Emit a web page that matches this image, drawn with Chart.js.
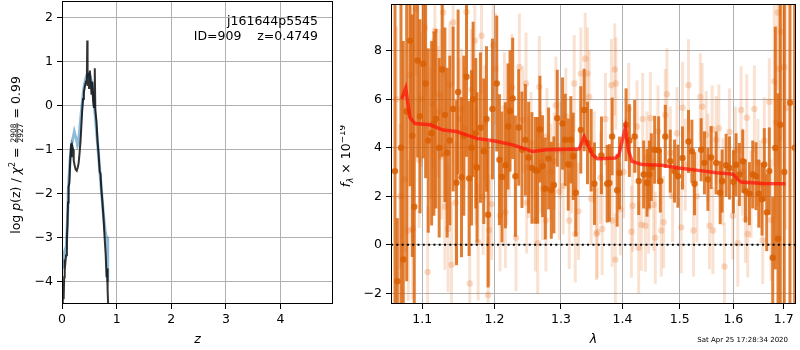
<!DOCTYPE html>
<html>
<head>
<meta charset="utf-8">
<script src="https://cdn.jsdelivr.net/npm/chart.js@4.4.0/dist/chart.umd.min.js"></script>
<style>
  body { margin: 0; background: #fff; }
  #wrap { position: relative; width: 800px; height: 350px; }
  canvas { position: absolute; top: 0; }
</style>
</head>
<body>
<div id="wrap">
  <canvas id="pz" width="340" height="350" style="left:0px"></canvas>
  <canvas id="spec" width="460" height="350" style="left:340px"></canvas>
</div>
<script>
// left panel: log p(z) curves
let zBlack = [0.010,0.020,0.030,0.040,0.050,0.060,0.075,0.090,0.100,0.110,0.120,0.135,0.150,0.165,0.175,0.185,0.195,0.205,0.215,0.230,0.250,0.270,0.290,0.305,0.320,0.340,0.355,0.370,0.385,0.400,0.420,0.440,0.455,0.462,0.468,0.480,0.495,0.510,0.525,0.540,0.555,0.570,0.585,0.595,0.600,0.610,0.630,0.650,0.670,0.690,0.705,0.720,0.740,0.760,0.780,0.800,0.815,0.825,0.835,0.850];
let lnpBlack = [-4.6,-4.2,-4.4,-3.9,-3.5,-3.6,-3.4,-3.0,-2.7,-2.2,-1.85,-1.75,-1.25,-0.9,-0.85,-1.15,-0.95,-1.0,-1.25,-1.35,-1.45,-1.48,-1.4,-1.3,-1.1,-0.8,-0.45,-0.1,0.15,0.3,0.45,0.55,0.6,1.48,0.45,0.75,0.4,0.8,0.55,0.25,0.55,0.1,-0.05,0.3,0.85,-0.1,-0.35,-0.8,-1.1,-1.5,-1.55,-1.9,-2.2,-2.55,-3.0,-3.4,-3.9,-3.7,-4.2,-4.7];
let zBlue = [0.005,0.020,0.050,0.080,0.100,0.120,0.150,0.180,0.210,0.225,0.245,0.265,0.285,0.300,0.320,0.350,0.370,0.400,0.430,0.460,0.490,0.520,0.550,0.580,0.610,0.640,0.670,0.700,0.730,0.760,0.790,0.810,0.825,0.832,0.840];
let lnpBlue = [-3.7,-3.65,-3.3,-3.2,-2.6,-1.8,-1.2,-0.85,-0.7,-0.6,-0.7,-0.75,-0.9,-0.85,-0.6,-0.2,0.05,0.4,0.6,0.7,0.72,0.65,0.45,0.15,-0.25,-0.7,-1.15,-1.6,-2.05,-2.5,-2.85,-3.0,-3.0,-3.7,-4.0];
let zTicks = [0, 1, 2, 3, 4];
let lnpTicks = [-4, -3, -2, -1, 0, 1, 2];

// right panel: spectrum, two sets of points with errors, model line
let waveDark = [1.0645,1.0675,1.0722,1.0752,1.0796,1.0839,1.0869,1.0895,1.0939,1.0970,1.1013,1.1045,1.1080,1.1125,1.1156,1.1183,1.1227,1.1267,1.1304,1.1335,1.1372,1.1417,1.1464,1.1486,1.1533,1.1565,1.1603,1.1639,1.1673,1.1695,1.1733,1.1751,1.1799,1.1846,1.1885,1.1908,1.1971,
  1.2033,1.2072,1.2110,1.2159,1.2197,1.2227,1.2266,1.2306,1.2355,1.2404,1.2455,1.2504,1.2554,1.2605,1.2640,1.2675,1.2716,1.2758,1.2808,1.2850,1.2890,1.2943,1.3025,1.3068,1.3115,1.3156,1.3194,1.3235,1.3315,1.3369,1.3423,1.3482,1.3536,
  1.3650,1.3744,1.3782,1.3827,1.3910,1.3949,1.4061,1.4117,1.4207,1.4276,1.4362,1.4420,1.4460,1.4495,1.4553,1.4623,1.4653,1.4741,1.4830,1.4906,1.4967,1.5050,1.5159,1.5221,1.5269,
  1.5392,1.5453,1.5517,1.5578,1.5672,1.5748,1.5785,1.5862,1.5925,1.6001,1.6053,1.6117,1.6183,1.6234,1.6312,1.6378,1.6443,1.6497,1.6562,1.6608,1.6656,1.6708,1.6777,1.6829,1.6884,1.6931,1.7012,1.7129,1.7226];
let fluxDark = [3.04,-1.5,4.0,-0.6,5.5,8.42,4.5,1.57,7.6,5.3,7.47,6.65,4.3,4.6,5.0,5.2,4.0,7.23,5.36,3.8,4.3,5.6,2.56,6.3,2.79,4.5,6.93,2.74,4.0,6.0,4.6,3.19,4.83,3.86,5.19,1.24,5.6,
  6.65,3.51,2.80,3.28,4.88,5.52,6.04,2.83,4.84,3.92,4.33,3.6,3.17,3.07,3.07,4.77,3.24,2.32,3.56,2.25,2.47,5.22,5.0,4.33,3.31,4.33,3.65,2.15,4.74,5.56,4.2,3.9,2.52,
  3.69,2.52,2.55,4.47,2.25,2.96,4.95,4.3,4.47,2.63,2.9,2.56,2.9,3.2,3.92,3.9,2.63,4.47,3.45,3.04,2.83,3.58,4.26,3.86,2.52,
  3.92,3.38,2.7,3.6,3.38,2.15,2.63,3.28,3.17,2.6,3.3,2.9,3.45,2.22,2.11,2.9,2.83,2.11,1.88,3.31,1.34,3.04,-0.53,3.99,0.25,4.95,3.0,5.86,4.0];
let errDark = [9,2.6,9,9,7,6,5,9,4,4,3.9,3.9,3.8,3.8,3.8,3.7,3.7,3.6,3.6,3.5,3.5,3.4,3.4,3.4,3.3,3.3,3.3,3.2,3.2,3.2,3.1,3.1,3.1,3.0,3.0,3.0,2.9,
  2.8,2.7,2.7,2.6,2.6,2.5,2.5,2.5,2.4,2.4,2.3,2.3,2.3,2.2,2.2,2.2,2.1,2.1,2.1,2.0,2.0,2.0,1.9,1.9,1.9,1.8,1.8,1.8,1.8,1.7,1.7,1.7,1.7,
  1.6,1.6,1.6,1.6,1.5,1.5,1.5,1.5,1.5,1.4,1.4,1.4,1.4,1.4,1.4,1.4,1.3,1.3,1.3,1.3,1.3,1.3,1.3,1.3,1.3,
  1.3,1.3,1.3,1.3,1.3,1.3,1.3,1.3,1.3,1.3,1.3,1.3,1.3,1.3,1.3,1.4,1.4,1.4,1.5,1.5,1.6,1.8,2.5,5,6,8,10,10,12];

let waveLight = [1.0664,1.0709,1.0774,1.0817,1.0839,1.0874,1.0917,1.0960,1.0992,1.1036,1.1072,1.1111,1.1138,1.1169,1.1213,1.1236,1.1259,1.1281,1.1304,1.1348,1.1372,1.1395,1.1417,1.1454,1.1500,1.1533,1.1579,1.1603,1.1648,1.1673,1.1719,1.1733,1.1766,1.1814,1.1837,1.1860,1.1908,1.1923,1.1957,1.1980,
  1.2014,1.2080,1.2145,1.2159,1.2180,1.2218,1.2256,1.2315,1.2365,1.2414,1.2464,1.2474,1.2500,1.2539,1.2605,1.2640,1.2666,1.2690,1.2716,1.2767,1.2782,1.2844,1.2896,1.2921,1.2974,1.2990,1.3036,1.3077,1.3131,1.3170,1.3210,1.3226,1.3278,1.3315,1.3386,1.3423,1.3450,1.3482,1.3531,1.3569,
  1.3580,1.3634,1.3662,1.3716,1.3815,1.3827,1.3870,1.3880,1.3890,1.3965,1.4020,1.4105,1.4151,1.4173,1.4248,1.4276,1.4322,1.4345,1.4391,1.4420,1.4448,1.4478,1.4535,1.4564,1.4612,1.4670,1.4711,1.4741,1.4771,1.4830,1.4871,1.4950,1.5027,1.5050,1.5100,1.5159,1.5251,1.5313,
  1.5374,1.5411,1.5485,1.5520,1.5547,1.5597,1.5610,1.5672,1.5723,1.5800,1.5829,1.5925,1.5990,1.6040,1.6086,1.6150,1.6180,1.6234,1.6261,1.6280,1.6345,1.6410,1.6480,1.6530,1.6576,1.6608,1.6708,1.6742,1.6809,1.6843,1.6878,1.6910,1.6945,1.7012,1.7047];
let fluxLight = [6.0,2.0,2.7,0.59,7.0,0.65,9.74,3.5,6.0,8.96,-1.12,4.6,5.8,8.83,5.5,6.2,3.65,9.58,1.57,0.65,6.6,-0.82,9.17,1.74,5.2,5.6,4.81,9.6,-1.59,6.4,8.42,3.24,0.11,8.62,1.98,5.0,-2.07,0.61,1.68,8.24,
  7.26,1.2,5.63,1.34,3.0,4.2,6.5,0.29,7.33,5.15,6.65,1.74,3.2,4.2,1.0,0.07,6.51,3.4,2.3,1.0,4.47,3.0,3.45,5.76,2.2,3.9,2.43,5.3,1.0,3.3,6.65,0.45,1.38,7.06,7.67,7.06,6.1,1.9,3.6,0.45,
  0.52,2.77,0.65,5.19,6.58,1.0,7.23,-0.61,6.65,1.47,3.0,5.6,0.54,1.61,4.88,-0.12,0.83,5.19,0.79,3.6,1.54,5.22,1.65,0.29,4.67,0.59,0.93,5.35,6.21,3.8,2.02,4.6,0.72,5.65,3.3,6.58,0.59,2.0,
  6.1,5.7,4.54,3.6,0.79,4.77,0.59,4.33,4.81,2.6,-0.89,4.65,1.2,3.9,0.07,5.56,3.0,1.06,5.24,0.45,2.08,5.6,3.4,2.5,0.18,4.29,5.9,1.02,6.74,5.05,9.58,7.26,8.79,7.33,5.63];
let errLight = [3.0,3.0,3.0,2.9,2.9,2.9,2.8,2.8,2.8,2.8,2.7,2.7,2.7,2.7,2.7,2.7,2.6,2.6,2.6,2.6,2.6,2.6,2.6,2.5,2.5,2.5,2.5,2.5,2.5,2.5,2.4,2.4,2.4,2.4,2.4,2.4,2.4,2.3,2.3,2.3,
  2.3,2.3,2.3,2.3,2.2,2.2,2.2,2.2,2.2,2.2,2.1,2.1,2.1,2.1,2.1,2.1,2.1,2.1,2.1,2.1,2.0,2.0,2.0,2.0,2.0,2.0,2.0,2.0,2.0,2.0,2.0,2.0,2.0,1.9,1.9,1.9,1.9,1.9,1.9,1.9,
  1.9,1.9,1.9,1.9,1.9,1.9,1.9,1.9,1.9,1.9,1.9,1.9,1.9,1.9,1.9,1.9,1.9,1.9,1.9,1.9,1.9,1.9,1.9,1.9,1.9,1.9,1.9,1.9,1.9,1.9,1.9,1.9,1.9,1.9,1.9,1.9,1.9,1.9,
  1.8,1.8,1.8,1.8,1.8,1.8,1.8,1.8,1.8,1.8,1.8,1.8,1.8,1.8,1.8,1.8,1.8,1.8,1.8,1.8,1.8,1.8,1.8,1.8,1.8,1.8,1.8,2.5,3.5,4,3.2,4,4.5,5,5];

let waveModel = [1.0731,1.0783,1.0839,1.0904,1.1102,1.1281,1.1464,1.1603,1.1743,1.2004,1.2266,1.2565,1.2767,1.3131,1.3289,1.3369,1.3503,1.3585,1.3882,1.3937,1.4049,1.4105,1.4163,1.4334,1.4683,1.4978,1.5374,1.5672,1.5925,1.6001,1.6086,1.6150,1.6576,1.7033];
let fluxModel = [6.02,6.46,5.25,5.0,4.95,4.73,4.67,4.53,4.39,4.28,4.12,3.85,3.92,3.94,3.95,4.46,3.71,3.55,3.58,3.68,4.83,3.85,3.44,3.31,3.28,3.17,3.06,2.97,2.93,2.9,2.7,2.59,2.53,2.52];

let waveTicks = [1.1, 1.2, 1.3, 1.4, 1.5, 1.6, 1.7];
let fluxTicks = [-2, 0, 2, 4, 6, 8];
let waveMin = 1.0594, waveMax = 1.7254;

Chart.defaults.font.family = "'DejaVu Sans', sans-serif";
Chart.defaults.font.size = 12.5;
Chart.defaults.color = '#000';

const FONT = "'DejaVu Sans', sans-serif";

function minus(v) {
  return String(v).replace('-', '\u2212');
}

function gridOpts() {
  return { color: '#b0b0b0', lineWidth: 1, tickColor: '#000', tickLength: 5, tickWidth: 1 };
}

function points(xs, ys) {
  return xs.map((x, i) => ({ x: x, y: ys[i] }));
}

// fixed axis boxes so the plot areas land where the reference has them
function fixY(w) {
  return axis => { axis.width = w; axis.paddingTop = 0; axis.paddingBottom = 0; };
}
function fixX(h) {
  return axis => { axis.height = h; axis.paddingLeft = 0; axis.paddingRight = 0; };
}

// text rotated 90 degrees, built from pieces (italic, sub/superscript, fraction)
function drawRich(ctx, bx, cy, pieces) {
  ctx.save();
  ctx.translate(bx, cy);
  ctx.rotate(-Math.PI / 2);
  ctx.fillStyle = '#000';
  ctx.textBaseline = 'alphabetic';
  let total = 0;
  pieces.forEach(p => {
    if (p.num) {
      ctx.font = p.size + 'px ' + FONT;
      p.w = Math.max(ctx.measureText(p.num).width, ctx.measureText(p.den).width) + 2;
    } else {
      ctx.font = (p.italic ? 'italic ' : '') + p.size + 'px ' + FONT;
      p.w = ctx.measureText(p.text).width;
    }
    total += p.w;
  });
  let x = -total / 2;
  pieces.forEach(p => {
    if (p.num) {
      ctx.font = p.size + 'px ' + FONT;
      ctx.textAlign = 'center';
      ctx.fillText(p.num, x + p.w / 2, -4.2);
      ctx.fillText(p.den, x + p.w / 2, 2.6);
      ctx.fillRect(x + 0.5, -3.4, p.w - 1, 0.8);
    } else {
      ctx.font = (p.italic ? 'italic ' : '') + p.size + 'px ' + FONT;
      ctx.textAlign = 'left';
      ctx.fillText(p.text, x, p.dy || 0);
    }
    x += p.w;
  });
  ctx.restore();
}

// vertical error bars, drawn under each dataset's markers
const errorBars = {
  id: 'errorBars',
  beforeDatasetDraw(chart, args) {
    const ds = chart.data.datasets[args.index];
    if (!ds.errors) return;
    const ctx = chart.ctx, xs = chart.scales.x, ys = chart.scales.y, a = chart.chartArea;
    ctx.save();
    ctx.beginPath();
    ctx.rect(a.left, a.top, a.right - a.left, a.bottom - a.top);
    ctx.clip();
    ctx.strokeStyle = ds.errColor;
    ctx.lineWidth = ds.errWidth;
    ds.data.forEach((p, i) => {
      const px = xs.getPixelForValue(p.x);
      ctx.beginPath();
      ctx.moveTo(px, ys.getPixelForValue(p.y - ds.errors[i]));
      ctx.lineTo(px, ys.getPixelForValue(p.y + ds.errors[i]));
      ctx.stroke();
    });
    ctx.restore();
  }
};

// black box around the plot area
const frame = {
  id: 'frame',
  afterDraw(chart) {
    const a = chart.chartArea, ctx = chart.ctx;
    ctx.save();
    ctx.strokeStyle = '#000';
    ctx.lineWidth = 1;
    ctx.strokeRect(Math.floor(a.left) + 0.5, Math.floor(a.top) + 0.5,
      Math.round(a.right - a.left) - 1, Math.round(a.bottom - a.top) - 1);
    ctx.restore();
  }
};

const pzText = {
  id: 'pzText',
  afterDraw(chart) {
    const ctx = chart.ctx;
    ctx.save();
    ctx.fillStyle = '#000';
    ctx.font = '12.5px ' + FONT;
    ctx.textAlign = 'right';
    ctx.textBaseline = 'alphabetic';
    ctx.fillText('j161644p5545', 318, 24.5);
    ctx.fillText('ID=909    z=0.4749', 318, 39.5);
    ctx.restore();
    drawRich(ctx, 20, 155, [
      { text: 'log ', size: 12.5 },
      { text: 'p', size: 12.5, italic: true },
      { text: '(z) / ', size: 12.5 },
      { text: '\u03c7', size: 12.5, italic: true },
      { text: '2', size: 8, dy: -5.5 },
      { text: ' = ', size: 12.5 },
      { num: '2908', den: '2927', size: 7.5 },
      { text: ' = 0.99', size: 12.5 }
    ]);
  }
};

const specText = {
  id: 'specText',
  afterDraw(chart) {
    const ctx = chart.ctx;
    drawRich(ctx, 10, 156, [
      { text: 'f', size: 12.5, italic: true },
      { text: '\u03bb', size: 8.75, italic: true, dy: 3 },
      { text: ' \u00d7 10', size: 12.5 },
      { text: '\u221219', size: 8.75, dy: -5.5 }
    ]);
    ctx.save();
    ctx.fillStyle = '#000';
    ctx.font = '7px ' + FONT;
    ctx.textAlign = 'right';
    ctx.fillText('Sat Apr 25 17:28:34 2020', 448, 342);
    ctx.restore();
  }
};

// left chart
new Chart(document.getElementById('pz'), {
  type: 'scatter',
  data: {
    datasets: [
      { data: points(zBlack, lnpBlack), showLine: true, borderColor: 'rgba(0,0,0,0.8)', borderWidth: 2, pointRadius: 0, clip: 0 },
      { data: points(zBlue, lnpBlue), showLine: true, borderColor: 'rgba(31,119,180,0.5)', borderWidth: 3, pointRadius: 0, clip: 0 }
    ]
  },
  options: {
    responsive: false,
    animation: false,
    devicePixelRatio: 1,
    layout: { padding: { left: 0, right: 7, top: 1, bottom: 0 } },
    plugins: { legend: { display: false }, tooltip: { enabled: false } },
    scales: {
      x: {
        type: 'linear', min: 0, max: 4.96,
        grid: gridOpts(), border: { display: false },
        ticks: { padding: 3, maxRotation: 0, callback: v => minus(v) },
        afterBuildTicks: axis => { axis.ticks = zTicks.map(v => ({ value: v })); },
        afterFit: fixX(46),
        title: { display: true, text: 'z', font: { size: 12.5, style: 'italic' }, padding: { top: 0, bottom: 3 } }
      },
      y: {
        type: 'linear', min: -4.51, max: 2.38,
        grid: gridOpts(), border: { display: false },
        ticks: { padding: 4, callback: v => minus(v) },
        afterBuildTicks: axis => { axis.ticks = lnpTicks.map(v => ({ value: v })); },
        afterFit: fixY(62)
      }
    }
  },
  plugins: [frame, pzText]
});

// right chart
new Chart(document.getElementById('spec'), {
  type: 'scatter',
  data: {
    datasets: [
      { data: points(waveModel, fluxModel), showLine: true, borderColor: 'rgba(255,20,10,0.75)', borderWidth: 3.5, pointRadius: 0, clip: 0 },
      { data: [{ x: waveMin, y: 0 }, { x: waveMax, y: 0 }], showLine: true, borderColor: '#000', borderWidth: 2, borderDash: [2, 3.3], pointRadius: 0, clip: 0 },
      { data: points(waveDark, fluxDark), errors: errDark, errColor: 'rgba(217,95,2,0.8)', errWidth: 3,
        pointRadius: 3.2, pointBorderWidth: 0, backgroundColor: 'rgba(217,95,2,0.85)', clip: 0 },
      { data: points(waveLight, fluxLight), errors: errLight, errColor: 'rgba(230,110,30,0.2)', errWidth: 3,
        pointRadius: 3.2, pointBorderWidth: 0, backgroundColor: 'rgba(230,110,30,0.25)', clip: 0 }
    ]
  },
  options: {
    responsive: false,
    animation: false,
    devicePixelRatio: 1,
    layout: { padding: { left: 0, right: 3, top: 1, bottom: 0 } },
    plugins: { legend: { display: false }, tooltip: { enabled: false } },
    scales: {
      x: {
        type: 'logarithmic', min: waveMin, max: waveMax,
        grid: gridOpts(), border: { display: false },
        ticks: { padding: 3, maxRotation: 0, autoSkip: false, callback: v => Number(v).toFixed(1) },
        afterBuildTicks: axis => { axis.ticks = waveTicks.map(v => ({ value: v })); },
        afterFit: fixX(46),
        title: { display: true, text: '\u03bb', font: { size: 12.5, style: 'italic' }, padding: { top: 0, bottom: 3 } }
      },
      y: {
        type: 'linear', min: -2.44, max: 9.93,
        grid: gridOpts(), border: { display: false },
        ticks: { padding: 4, callback: v => minus(v) },
        afterBuildTicks: axis => { axis.ticks = fluxTicks.map(v => ({ value: v })); },
        afterFit: fixY(51)
      }
    }
  },
  plugins: [errorBars, frame, specText]
});
</script>
</body>
</html>
